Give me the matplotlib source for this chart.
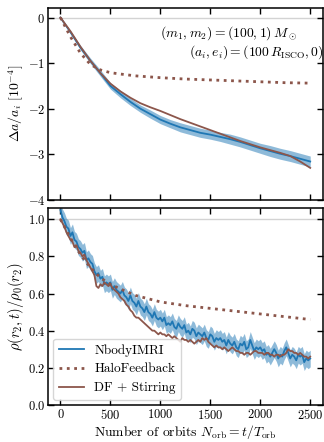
import numpy as np
import matplotlib
matplotlib.use("Agg")
import matplotlib.pyplot as plt

# top panel: semi-major axis change, units of 1e-4
orbits_top = [0, 100, 200, 300, 400, 500, 600, 700, 800, 900, 1000, 1100, 1200,
              1300, 1400, 1500, 1600, 1700, 1800, 1900, 2000, 2100, 2200, 2300,
              2400, 2500]
da_nbody = [0.0, -0.32, -0.66, -0.95, -1.22, -1.50, -1.68, -1.85, -2.00, -2.12,
            -2.24, -2.33, -2.41, -2.47, -2.53, -2.57, -2.62, -2.67, -2.73, -2.80,
            -2.87, -2.93, -2.99, -3.04, -3.10, -3.16]
da_nbody_err = [0.0, 0.03, 0.05, 0.06, 0.07, 0.07, 0.08, 0.08, 0.08, 0.09, 0.09,
                0.09, 0.10, 0.10, 0.10, 0.10, 0.10, 0.11, 0.11, 0.11, 0.11, 0.12,
                0.12, 0.12, 0.12, 0.12]
da_dfstir = [0.0, -0.30, -0.64, -0.95, -1.22, -1.45, -1.62, -1.76, -1.88, -1.97,
             -2.05, -2.14, -2.23, -2.31, -2.39, -2.47, -2.55, -2.63, -2.71, -2.78,
             -2.85, -2.91, -2.97, -3.04, -3.16, -3.30]
orbits_hf = [0, 100, 200, 300, 400, 500, 600, 750, 1000, 1250, 1500, 1750, 2000,
             2250, 2500]
da_hf = [0.0, -0.42, -0.78, -1.03, -1.15, -1.21, -1.24, -1.28, -1.32, -1.35,
         -1.37, -1.39, -1.41, -1.43, -1.44]

# bottom panel: density ratio at r2
orbits_bot = np.arange(0, 2501, 20)
rho_nbody = [
    1.05, 1.01, 0.99, 0.96, 0.95, 0.91, 0.93, 0.89, 0.88, 0.85,
    0.84, 0.82, 0.83, 0.78, 0.79, 0.77, 0.76, 0.72, 0.70, 0.71,
    0.68, 0.69, 0.65, 0.66, 0.65, 0.66, 0.62, 0.64, 0.62, 0.61,
    0.60, 0.62, 0.59, 0.58, 0.56, 0.59, 0.56, 0.55, 0.53, 0.56,
    0.53, 0.52, 0.50, 0.53, 0.50, 0.49, 0.47, 0.50, 0.47, 0.46,
    0.47, 0.45, 0.47, 0.43, 0.44, 0.43, 0.45, 0.42, 0.41, 0.44,
    0.42, 0.41, 0.43, 0.39, 0.40, 0.38, 0.41, 0.40, 0.37, 0.39,
    0.38, 0.37, 0.39, 0.36, 0.35, 0.38, 0.37, 0.34, 0.36, 0.35,
    0.36, 0.34, 0.35, 0.32, 0.35, 0.33, 0.32, 0.34, 0.31, 0.30,
    0.33, 0.32, 0.34, 0.30, 0.31, 0.35, 0.32, 0.29, 0.31, 0.30,
    0.31, 0.29, 0.30, 0.27, 0.28, 0.26, 0.28, 0.30, 0.28, 0.25,
    0.27, 0.26, 0.29, 0.31, 0.28, 0.25, 0.27, 0.26, 0.24, 0.27,
    0.26, 0.27, 0.23, 0.25, 0.24, 0.25]
rho_nbody_err = 0.045
rho_dfstir = [
    1.00, 0.98, 0.96, 0.93, 0.91, 0.89, 0.88, 0.85, 0.86, 0.83,
    0.82, 0.80, 0.81, 0.78, 0.76, 0.74, 0.72, 0.70, 0.64, 0.63,
    0.65, 0.64, 0.66, 0.65, 0.64, 0.65, 0.63, 0.62, 0.61, 0.60,
    0.58, 0.57, 0.56, 0.54, 0.53, 0.51, 0.50, 0.48, 0.47, 0.47,
    0.46, 0.45, 0.44, 0.43, 0.42, 0.41, 0.40, 0.40, 0.39, 0.38,
    0.39, 0.38, 0.38, 0.37, 0.38, 0.37, 0.36, 0.37, 0.36, 0.35,
    0.34, 0.36, 0.35, 0.35, 0.34, 0.35, 0.34, 0.33, 0.34, 0.35,
    0.34, 0.36, 0.35, 0.36, 0.34, 0.33, 0.32, 0.31, 0.32, 0.31,
    0.31, 0.30, 0.31, 0.30, 0.29, 0.30, 0.31, 0.30, 0.29, 0.29,
    0.28, 0.28, 0.27, 0.28, 0.28, 0.27, 0.28, 0.29, 0.29, 0.28,
    0.28, 0.28, 0.27, 0.28, 0.28, 0.27, 0.27, 0.26, 0.27, 0.27,
    0.26, 0.27, 0.27, 0.28, 0.30, 0.29, 0.29, 0.28, 0.28, 0.27,
    0.28, 0.27, 0.26, 0.26, 0.25, 0.26]
orbits_rho_hf = [0, 100, 200, 300, 400, 500, 600, 750, 1000, 1250, 1500, 1750,
                 2000, 2250, 2500]
rho_hf = [1.0, 0.90, 0.81, 0.74, 0.685, 0.65, 0.625, 0.59, 0.555, 0.535,
          0.52, 0.505, 0.49, 0.475, 0.46]

plt.rcParams['font.family'] = 'serif'
plt.rcParams['font.serif'] = ['cmr10']
plt.rcParams['mathtext.fontset'] = 'cm'
plt.rcParams['axes.formatter.use_mathtext'] = True
plt.rcParams['font.size'] = 9

blue = '#1f77b4'
brown = '#8c564b'

fig = plt.figure(figsize=(3.24, 4.42), dpi=100)
ax1 = fig.add_axes([0.148, 0.548, 0.848, 0.435])
ax2 = fig.add_axes([0.148, 0.084, 0.848, 0.445])

# top panel
ax1.axhline(0, color='lightgrey', lw=1, zorder=0)
lo = np.array(da_nbody) - np.array(da_nbody_err)
hi = np.array(da_nbody) + np.array(da_nbody_err)
ax1.fill_between(orbits_top, lo, hi, color=blue, alpha=0.5, lw=0)
ax1.plot(orbits_top, da_nbody, color=blue, lw=1.3)
ax1.plot(orbits_hf, da_hf, color=brown, lw=2, ls=':')
ax1.plot(orbits_top, da_dfstir, color=brown, lw=1.3)
ax1.set_ylim(-4, 0.22)
ax1.set_yticks([0, -1, -2, -3, -4])
ax1.set_ylabel(r'$\Delta a / a_i\ [10^{-4}]$', fontsize=10, labelpad=1)
ax1.text(0.907, 0.867, r'$(m_1, m_2) = (100, 1)\,M_\odot$', transform=ax1.transAxes,
         ha='right', va='center', fontsize=9.8)
ax1.text(1.005, 0.769, r'$(a_i, e_i) = (100\,R_\mathrm{ISCO}, 0)$', transform=ax1.transAxes,
         ha='right', va='center', fontsize=9.8)
ax1.tick_params(labelbottom=False)

# bottom panel
ax2.axhline(1, color='lightgrey', lw=1, zorder=0)
rn = np.array(rho_nbody)
ax2.fill_between(orbits_bot, rn - rho_nbody_err, rn + rho_nbody_err,
                 color=blue, alpha=0.5, lw=0)
ax2.plot(orbits_bot, rho_nbody, color=blue, lw=1.3, label='NbodyIMRI')
ax2.plot(orbits_rho_hf, rho_hf, color=brown, lw=2, ls=':', label='HaloFeedback')
ax2.plot(orbits_bot, rho_dfstir, color=brown, lw=1.3, label='DF + Stirring')
ax2.set_ylim(0, 1.06)
ax2.set_yticks([0.0, 0.2, 0.4, 0.6, 0.8, 1.0])
ax2.set_ylabel(r'$\rho(r_2, t) / \rho_0(r_2)$', fontsize=10.5, labelpad=1)
ax2.set_xlabel(r'Number of orbits $N_\mathrm{orb} = t/T_\mathrm{orb}$', fontsize=9.8)
ax2.xaxis.set_label_coords(0.5, -0.092)
ax2.legend(loc='lower left', fontsize=9.5, handlelength=1.9,
           borderaxespad=0.4, handletextpad=0.8)

for ax in (ax1, ax2):
    ax.set_xlim(-125, 2625)
    ax.set_xticks([0, 500, 1000, 1500, 2000, 2500])
    ax.tick_params(direction='in', top=True, right=True, length=4, width=1, pad=2)
    for s in ax.spines.values():
        s.set_linewidth(1.1)

fig.savefig('out.png', dpi=100)
